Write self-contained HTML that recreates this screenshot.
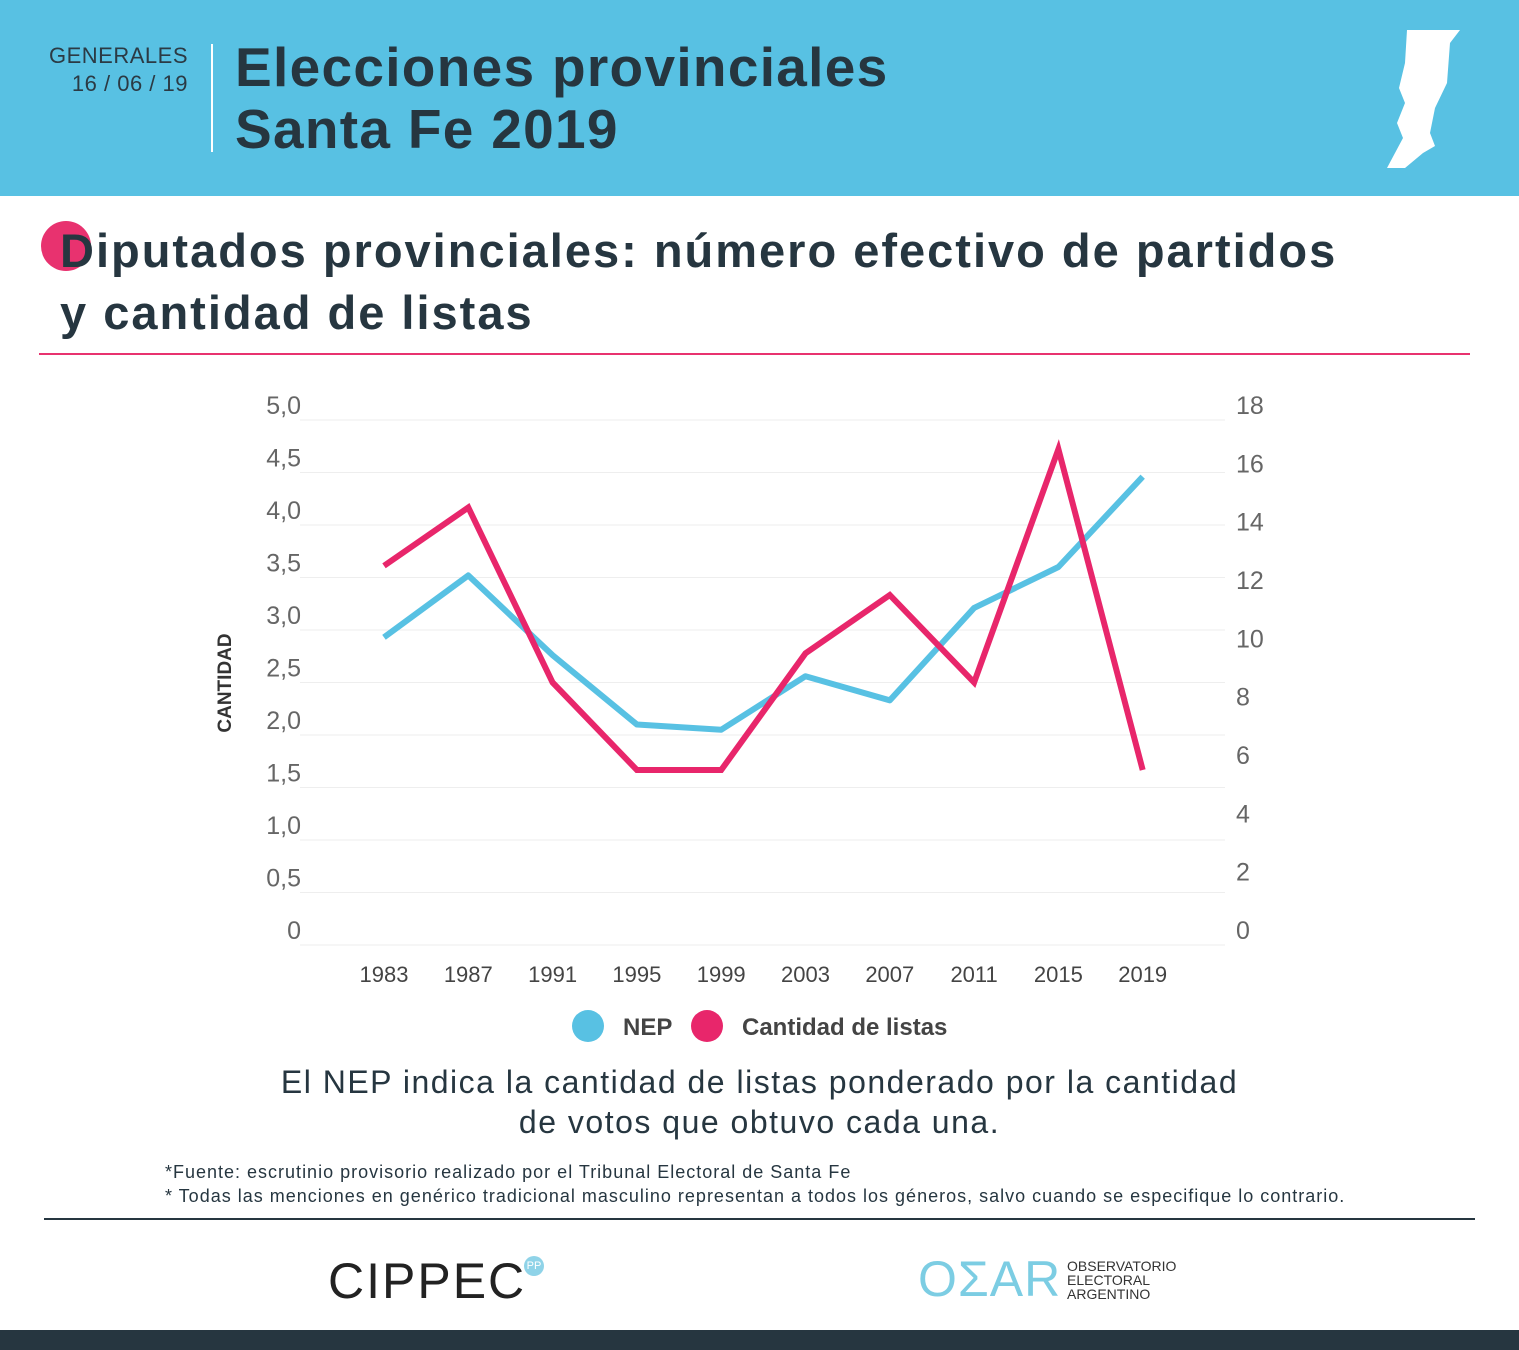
<!DOCTYPE html>
<html><head><meta charset="utf-8"><style>
body{margin:0;width:1519px;height:1350px;background:#fff;font-family:"Liberation Sans",sans-serif;position:relative;overflow:hidden}
.abs{position:absolute}
</style></head><body>
<div class="abs" style="left:0;top:0;width:1519px;height:196px;background:#58c1e3"></div>
<div class="abs" style="left:40px;top:42px;width:148px;text-align:right;color:#2b3a44;font-size:22px;line-height:28px;letter-spacing:0.5px">GENERALES<br>16 / 06 / 19</div>
<div class="abs" style="left:211px;top:44px;width:2px;height:108px;background:#fff"></div>
<div class="abs" style="left:235px;top:36px;color:#263640;font-size:55px;font-weight:bold;line-height:62px;letter-spacing:1.3px">Elecciones provinciales<br>Santa Fe 2019</div>
<svg class="abs" style="left:1385px;top:28px" width="80" height="142"><path d="M22 2 L75 2 L65 15 L62 55 L50 80 L45 105 L50 118 L38 125 L20 140 L2 140 L18 110 L12 95 L20 75 L14 60 L20 35 Z" fill="#fff"/></svg>
<div class="abs" style="left:41px;top:221px;width:50px;height:50px;border-radius:50%;background:#e8326f"></div>
<div class="abs" style="left:60px;top:220px;color:#263640;font-size:47px;font-weight:bold;line-height:62px;letter-spacing:2px">Diputados provinciales: número efectivo de partidos<br>y cantidad de listas</div>
<div class="abs" style="left:39px;top:353px;width:1431px;height:2px;background:#e8326f"></div>
<svg class="abs" id="chart" style="left:0;top:380px" width="1519" height="680"></svg>
<div class="abs" style="left:0;top:1062px;width:1519px;text-align:center;color:#263640;font-size:32px;line-height:40px;letter-spacing:1.5px">El NEP indica la cantidad de listas ponderado por la cantidad<br>de votos que obtuvo cada una.</div>
<div class="abs" style="left:165px;top:1160px;color:#263640;font-size:18px;line-height:24px;letter-spacing:1px">*Fuente: escrutinio provisorio realizado por el Tribunal Electoral de Santa Fe<br>* Todas las menciones en genérico tradicional masculino representan a todos los géneros, salvo cuando se especifique lo contrario.</div>
<div class="abs" style="left:44px;top:1218px;width:1431px;height:2px;background:#263640"></div>
<div class="abs" style="left:328px;top:1252px;color:#222;font-size:50px;letter-spacing:2px">CIPPEC</div>
<div class="abs" style="left:524px;top:1256px;width:20px;height:20px;border-radius:50%;background:#8fd3e8;color:#fff;font-size:11px;text-align:center;line-height:20px">PP</div>
<div class="abs" style="left:918px;top:1250px;color:#7ccde3;font-size:50px;letter-spacing:1px">OΣAR</div>
<div class="abs" style="left:1067px;top:1259px;color:#333;font-size:14px;line-height:14px">OBSERVATORIO<br>ELECTORAL<br>ARGENTINO</div>
<div class="abs" style="left:0;top:1330px;width:1519px;height:20px;background:#263640"></div>
<script>
const years=["1983","1987","1991","1995","1999","2003","2007","2011","2015","2019"];
const nep=[2.93,3.52,2.76,2.10,2.05,2.56,2.33,3.21,3.60,4.46];
const listas=[13,15,9,6,6,10,12,9,17,6];
const leftTicks=["0","0,5","1,0","1,5","2,0","2,5","3,0","3,5","4,0","4,5","5,0"];
const rightTicks=["0","2","4","6","8","10","12","14","16","18"];
const svg=document.getElementById('chart');const NS="http://www.w3.org/2000/svg";
const y0=565,yTop=40;
const yL=v=>y0-(v/5)*(y0-yTop);
const yR=v=>y0-(v/18)*(y0-yTop);
const x=i=>384+i*84.3;
function mk(t,a){const e=document.createElementNS(NS,t);for(const k in a)e.setAttribute(k,a[k]);svg.appendChild(e);return e;}
leftTicks.forEach((t,i)=>{const v=i*0.5;
const g=mk('line',{x1:300,x2:1225,y1:yL(v),y2:yL(v),stroke:'#eee','stroke-width':1});


const l=mk('text',{x:301,y:yL(v)-6,'text-anchor':'end','font-size':25,fill:'#666','font-family':'Liberation Sans'});l.textContent=t;

});
rightTicks.forEach((t,i)=>{const v=i*2;
const l=mk('text',{x:1236,y:yR(v)-6,'font-size':25,fill:'#666','font-family':'Liberation Sans'});l.textContent=t;

});
years.forEach((t,i)=>{const l=mk('text',{x:x(i),y:602,'text-anchor':'middle','font-size':22,fill:'#444','font-family':'Liberation Sans'});l.textContent=t;

});
const yt=mk('text',{x:0,y:0,transform:'translate(231,303) rotate(-90)','text-anchor':'middle','font-size':19,'font-weight':'bold',fill:'#333','font-family':'Liberation Sans'});yt.textContent='CANTIDAD';


const p1=mk('polyline',{points:nep.map((v,i)=>x(i)+','+yL(v)).join(' '),fill:'none',stroke:'#58c1e3','stroke-width':6,'stroke-linejoin':'round'});


const p2=mk('polyline',{points:listas.map((v,i)=>x(i)+','+yR(v)).join(' '),fill:'none',stroke:'#e8266b','stroke-width':6,'stroke-linejoin':'miter'});


const c1=mk('circle',{cx:588,cy:646,r:16,fill:'#58c1e3'});


const t1=mk('text',{x:623,y:655,'font-size':24,'font-weight':'bold',fill:'#444','font-family':'Liberation Sans'});t1.textContent='NEP';


const c2=mk('circle',{cx:707,cy:646,r:16,fill:'#e8266b'});


const t2=mk('text',{x:742,y:655,'font-size':24,'font-weight':'bold',fill:'#444','font-family':'Liberation Sans'});t2.textContent='Cantidad de listas';


</script>
</body></html>
